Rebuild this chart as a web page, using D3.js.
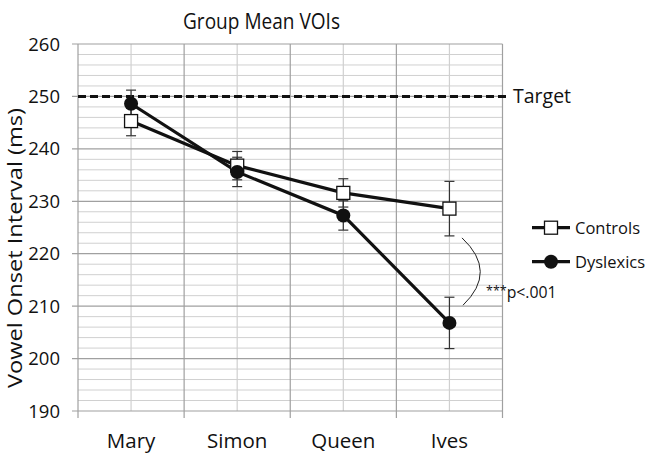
<!DOCTYPE html>
<html><head><meta charset="utf-8">
<script src="https://cdn.jsdelivr.net/npm/d3@7"></script>
<style>body{margin:0;background:#fff}svg{display:block}text{font-family:"Open Sans","Noto Sans",sans-serif;fill:#111}</style>
</head><body><svg id="c" width="645" height="454"></svg>
<script>
const categories = ["Mary","Simon","Queen","Ives"];
const controls = [245.3, 236.8, 231.6, 228.6];
const controlsErr = [2.8, 2.7, 2.7, 5.2];
const dyslexics = [248.6, 235.6, 227.3, 206.8];
const dyslexicsErr = [2.6, 2.8, 2.8, 4.9];
const yTicks = [190,200,210,220,230,240,250,260];
const target = 250;

const svg = d3.select("#c");
const L=78, R=502.5, T=44, B=411;
const x = d3.scaleBand().domain(categories).range([L,R]);
const y = d3.scaleLinear().domain([190,260]).range([B,T]);
const cx = d => x(d)+x.bandwidth()/2;

const g = svg.append("g");
d3.range(190,261,2).filter(v=>v%10!==0).forEach(v=>{
  g.append("line").attr("x1",L).attr("x2",R).attr("y1",y(v)).attr("y2",y(v)).attr("stroke","#d0d0d0").attr("stroke-width",1);
});
categories.forEach(c=>{
  g.append("line").attr("x1",cx(c)).attr("x2",cx(c)).attr("y1",T).attr("y2",B).attr("stroke","#d0d0d0").attr("stroke-width",1.2);
});
yTicks.forEach(v=>{
  g.append("line").attr("x1",L-6).attr("x2",R).attr("y1",y(v)).attr("y2",y(v)).attr("stroke","#a0a0a0").attr("stroke-width",1.2);
});
categories.concat(["_end"]).forEach((c,i)=>{
  const xx = i<categories.length ? x(c) : R;
  g.append("line").attr("x1",xx).attr("x2",xx).attr("y1",T).attr("y2",B+7).attr("stroke","#a0a0a0").attr("stroke-width",1.2);
});

yTicks.forEach(v=>{
  svg.append("text").attr("x",60).attr("y",y(v)+6.5).attr("text-anchor","end").attr("font-size",18.5).text(v);
});
categories.forEach(c=>{
  svg.append("text").attr("x",cx(c)).attr("y",448).attr("text-anchor","middle").attr("font-size",20.5).text(c);
});
svg.append("text").attr("x",261.5).attr("y",29).attr("text-anchor","middle").attr("font-size",21.5)
  .attr("textLength",157).attr("lengthAdjust","spacingAndGlyphs").text("Group Mean VOIs");
svg.append("text").attr("transform","translate(22,248) rotate(-90)").attr("text-anchor","middle").attr("font-size",20)
  .attr("textLength",280).attr("lengthAdjust","spacingAndGlyphs").text("Vowel Onset Interval (ms)");

svg.append("line").attr("x1",L).attr("x2",509).attr("y1",y(target)).attr("y2",y(target)).attr("stroke","#111").attr("stroke-width",3).attr("stroke-dasharray","8,4");
svg.append("text").attr("x",513).attr("y",y(target)+7).attr("font-size",19.5).text("Target");

function errBars(vals, errs){
  vals.forEach((v,i)=>{
    const xx = cx(categories[i]);
    const e = svg.append("g").attr("stroke","#333").attr("stroke-width",1.2);
    e.append("line").attr("x1",xx).attr("x2",xx).attr("y1",y(v+errs[i])).attr("y2",y(v-errs[i]));
    [v+errs[i], v-errs[i]].forEach(t=>e.append("line").attr("x1",xx-5).attr("x2",xx+5).attr("y1",y(t)).attr("y2",y(t)));
  });
}
errBars(controls, controlsErr);
errBars(dyslexics, dyslexicsErr);

const line = d3.line().x((d,i)=>cx(categories[i])).y(d=>y(d));
svg.append("path").attr("d",line(controls)).attr("fill","none").attr("stroke","#111").attr("stroke-width",3.2);
svg.append("path").attr("d",line(dyslexics)).attr("fill","none").attr("stroke","#111").attr("stroke-width",3.2);

controls.forEach((v,i)=>{
  svg.append("rect").attr("x",cx(categories[i])-6.5).attr("y",y(v)-6.5).attr("width",13).attr("height",13).attr("fill","#fff").attr("stroke","#111").attr("stroke-width",1.3);
});
dyslexics.forEach((v,i)=>{
  svg.append("circle").attr("cx",cx(categories[i])).attr("cy",y(v)).attr("r",7).attr("fill","#111");
});

const x0 = 462, y0 = y(controls[3]-controlsErr[3])+2, y1 = y(dyslexics[3]+dyslexicsErr[3])+8;
svg.append("path").attr("d",`M${x0},${y0} Q${x0+36},${(y0+y1)/2} ${x0+1},${y1}`).attr("fill","none").attr("stroke","#222").attr("stroke-width",1);
const st = svg.append("text").attr("x",486).attr("y",298).attr("font-size",15.8);
st.append("tspan").attr("font-size",12.5).attr("dy",-3).text("***");
st.append("tspan").attr("dy",3).text("p<.001");

const legend = [{name:"Controls", y:227.7, shape:"rect"},{name:"Dyslexics", y:261.7, shape:"circle"}];
legend.forEach(d=>{
  svg.append("line").attr("x1",532).attr("x2",570).attr("y1",d.y).attr("y2",d.y).attr("stroke","#111").attr("stroke-width",3.2);
  if(d.shape==="rect") svg.append("rect").attr("x",551-6.5).attr("y",d.y-6.5).attr("width",13).attr("height",13).attr("fill","#fff").attr("stroke","#111").attr("stroke-width",1.3);
  else svg.append("circle").attr("cx",551).attr("cy",d.y).attr("r",7).attr("fill","#111");
  svg.append("text").attr("x",575).attr("y",d.y+6).attr("font-size",16.5).text(d.name);
});
</script></body></html>
